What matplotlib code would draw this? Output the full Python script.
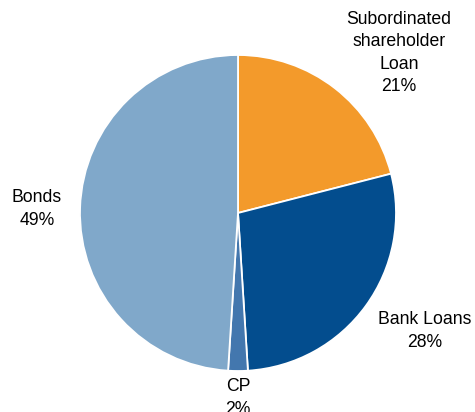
import matplotlib
matplotlib.use("Agg")
import matplotlib.pyplot as plt

categories = ["Subordinated\nshareholder\nLoan", "Bank Loans", "CP", "Bonds"]
values = [21, 28, 2, 49]
colors = ["#F39A2B", "#034D8E", "#4377AE", "#80A8CA"]

W, H = 475, 412
cx, cy, R = 238, 213, 158

fig = plt.figure(figsize=(W / 100, H / 100), dpi=100)
ax = fig.add_axes([0, 0, 1, 1])
ax.pie(values, colors=colors, startangle=90, counterclock=False,
       wedgeprops=dict(edgecolor="white", linewidth=1.3), radius=1)
ax.set_aspect("auto")
ax.set_xlim(-cx / R, (W - cx) / R)
ax.set_ylim((cy - H) / R, cy / R)
ax.axis("off")

def px(x, y):
    return (x - cx) / R, (cy - y) / R

label_pos = [(399, 53), (425, 331), (238, 398), (37, 209)]
for cat, v, (x, y) in zip(categories, values, label_pos):
    dx, dy = px(x, y)
    ax.text(dx, dy, f"{cat}\n{v}%", ha="center", va="center",
            fontsize=12.7, family="Liberation Sans", linespacing=1.4,
            color="#000000")

fig.savefig("out.png", dpi=100)
